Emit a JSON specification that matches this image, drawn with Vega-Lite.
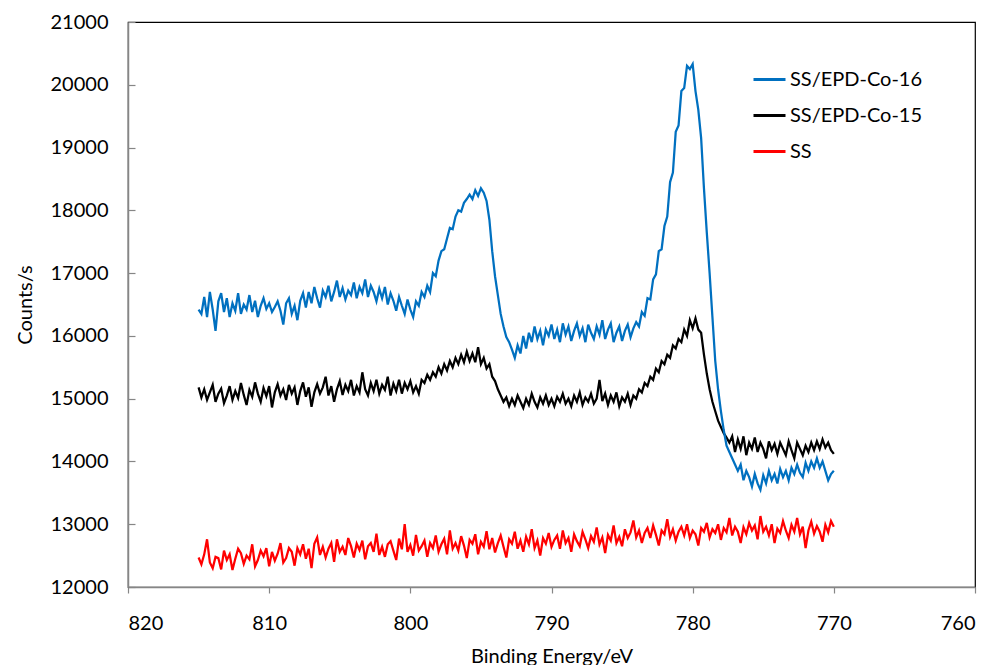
{
  "$schema": "https://vega.github.io/schema/vega-lite/v6.json",
  "width": 847,
  "height": 565,
  "autosize": "none",
  "padding": {"left": 128, "top": 22, "right": 20, "bottom": 78},
  "background": "white",
  "config": {
    "font": "Lato",
    "view": {"stroke": "#000000", "strokeWidth": 1.2},
    "axis": {
      "grid": false,
      "labelFont": "Lato",
      "labelFontSize": 20,
      "labelColor": "#000000",
      "titleFont": "Lato",
      "titleFontSize": 20,
      "titleFontWeight": "normal",
      "titleColor": "#000000",
      "domainColor": "#868686",
      "domainWidth": 1.5,
      "tickColor": "#868686",
      "tickWidth": 1.2
    },
    "legend": {"labelFont": "Lato", "labelFontSize": 20, "labelColor": "#000000"}
  },
  "data": {
    "values": [
      {"E":815.0,"b":16420,"k":15180,"r":12470},
      {"E":814.8,"b":16350,"k":15020,"r":12360},
      {"E":814.6,"b":16620,"k":15150,"r":12520},
      {"E":814.4,"b":16300,"k":14980,"r":12760},
      {"E":814.2,"b":16700,"k":15100,"r":12390},
      {"E":814.0,"b":16420,"k":15220,"r":12300},
      {"E":813.8,"b":16080,"k":14950,"r":12480},
      {"E":813.6,"b":16550,"k":15080,"r":12460},
      {"E":813.4,"b":16680,"k":15160,"r":12280},
      {"E":813.2,"b":16380,"k":14930,"r":12580},
      {"E":813.0,"b":16600,"k":15050,"r":12430},
      {"E":812.8,"b":16300,"k":15200,"r":12520},
      {"E":812.6,"b":16520,"k":14980,"r":12270},
      {"E":812.4,"b":16400,"k":15120,"r":12450},
      {"E":812.2,"b":16680,"k":15010,"r":12610},
      {"E":812.0,"b":16350,"k":15250,"r":12540},
      {"E":811.8,"b":16500,"k":15060,"r":12370},
      {"E":811.6,"b":16420,"k":14900,"r":12500},
      {"E":811.4,"b":16650,"k":15140,"r":12440},
      {"E":811.2,"b":16380,"k":15030,"r":12680},
      {"E":811.0,"b":16560,"k":15260,"r":12330},
      {"E":810.8,"b":16300,"k":15080,"r":12430},
      {"E":810.6,"b":16480,"k":14950,"r":12580},
      {"E":810.4,"b":16600,"k":15170,"r":12490},
      {"E":810.2,"b":16430,"k":15040,"r":12620},
      {"E":810.0,"b":16520,"k":15200,"r":12330},
      {"E":809.8,"b":16380,"k":14860,"r":12560},
      {"E":809.6,"b":16460,"k":15100,"r":12420},
      {"E":809.4,"b":16550,"k":15230,"r":12530},
      {"E":809.2,"b":16400,"k":15050,"r":12700},
      {"E":809.0,"b":16180,"k":15150,"r":12390},
      {"E":808.8,"b":16520,"k":14980,"r":12460},
      {"E":808.6,"b":16600,"k":15220,"r":12620},
      {"E":808.4,"b":16350,"k":15080,"r":12560},
      {"E":808.2,"b":16480,"k":15180,"r":12340},
      {"E":808.0,"b":16250,"k":14900,"r":12620},
      {"E":807.8,"b":16560,"k":15120,"r":12520},
      {"E":807.6,"b":16680,"k":15260,"r":12680},
      {"E":807.4,"b":16450,"k":15030,"r":12450},
      {"E":807.2,"b":16700,"k":15180,"r":12610},
      {"E":807.0,"b":16520,"k":14870,"r":12300},
      {"E":806.8,"b":16780,"k":15100,"r":12690},
      {"E":806.6,"b":16600,"k":15230,"r":12790},
      {"E":806.4,"b":16450,"k":15080,"r":12510},
      {"E":806.2,"b":16720,"k":15180,"r":12640},
      {"E":806.0,"b":16620,"k":15350,"r":12470},
      {"E":805.8,"b":16800,"k":15050,"r":12610},
      {"E":805.6,"b":16550,"k":15200,"r":12700},
      {"E":805.4,"b":16700,"k":14950,"r":12400},
      {"E":805.2,"b":16880,"k":15150,"r":12760},
      {"E":805.0,"b":16620,"k":15280,"r":12560},
      {"E":804.8,"b":16760,"k":15060,"r":12640},
      {"E":804.6,"b":16580,"k":15220,"r":12510},
      {"E":804.4,"b":16720,"k":15120,"r":12780},
      {"E":804.2,"b":16650,"k":15300,"r":12650},
      {"E":804.0,"b":16850,"k":15050,"r":12470},
      {"E":803.8,"b":16600,"k":15200,"r":12690},
      {"E":803.6,"b":16780,"k":15100,"r":12590},
      {"E":803.4,"b":16680,"k":15420,"r":12740},
      {"E":803.2,"b":16900,"k":15150,"r":12440},
      {"E":803.0,"b":16620,"k":15050,"r":12650},
      {"E":802.8,"b":16800,"k":15250,"r":12700},
      {"E":802.6,"b":16700,"k":15120,"r":12560},
      {"E":802.4,"b":16550,"k":15300,"r":12850},
      {"E":802.2,"b":16750,"k":15080,"r":12510},
      {"E":802.0,"b":16600,"k":15220,"r":12640},
      {"E":801.8,"b":16780,"k":15140,"r":12480},
      {"E":801.6,"b":16500,"k":15350,"r":12680},
      {"E":801.4,"b":16680,"k":15050,"r":12730},
      {"E":801.2,"b":16560,"k":15240,"r":12580},
      {"E":801.0,"b":16400,"k":15120,"r":12430},
      {"E":800.8,"b":16620,"k":15300,"r":12770},
      {"E":800.6,"b":16480,"k":15080,"r":12600},
      {"E":800.4,"b":16350,"k":15250,"r":13000},
      {"E":800.2,"b":16580,"k":15150,"r":12560},
      {"E":800.0,"b":16420,"k":15280,"r":12670},
      {"E":799.8,"b":16300,"k":15100,"r":12500},
      {"E":799.6,"b":16550,"k":15200,"r":12830},
      {"E":799.4,"b":16480,"k":15080,"r":12580},
      {"E":799.2,"b":16700,"k":15300,"r":12650},
      {"E":799.0,"b":16620,"k":15250,"r":12740},
      {"E":798.8,"b":16800,"k":15380,"r":12480},
      {"E":798.6,"b":16700,"k":15300,"r":12700},
      {"E":798.4,"b":17000,"k":15420,"r":12620},
      {"E":798.2,"b":16950,"k":15350,"r":12820},
      {"E":798.0,"b":17200,"k":15500,"r":12560},
      {"E":797.8,"b":17350,"k":15400,"r":12680},
      {"E":797.6,"b":17380,"k":15550,"r":12770},
      {"E":797.4,"b":17550,"k":15450,"r":12520},
      {"E":797.2,"b":17720,"k":15600,"r":12900},
      {"E":797.0,"b":17700,"k":15500,"r":12610},
      {"E":796.8,"b":17900,"k":15650,"r":12700},
      {"E":796.6,"b":18000,"k":15550,"r":12580},
      {"E":796.4,"b":17980,"k":15700,"r":12810},
      {"E":796.2,"b":18120,"k":15580,"r":12660},
      {"E":796.0,"b":18180,"k":15750,"r":12460},
      {"E":795.8,"b":18250,"k":15600,"r":12750},
      {"E":795.6,"b":18180,"k":15720,"r":12690},
      {"E":795.4,"b":18320,"k":15580,"r":12840},
      {"E":795.2,"b":18230,"k":15820,"r":12520},
      {"E":795.0,"b":18350,"k":15550,"r":12720},
      {"E":794.8,"b":18280,"k":15650,"r":12640},
      {"E":794.6,"b":18150,"k":15480,"r":12890},
      {"E":794.4,"b":17850,"k":15550,"r":12600},
      {"E":794.2,"b":17350,"k":15350,"r":12780},
      {"E":794.0,"b":16950,"k":15280,"r":12550},
      {"E":793.8,"b":16650,"k":15150,"r":12700},
      {"E":793.6,"b":16350,"k":15050,"r":12820},
      {"E":793.4,"b":16150,"k":14950,"r":12640},
      {"E":793.2,"b":15980,"k":15020,"r":12470},
      {"E":793.0,"b":15900,"k":14880,"r":12760},
      {"E":792.8,"b":15780,"k":15000,"r":12690},
      {"E":792.6,"b":15650,"k":14900,"r":12880},
      {"E":792.4,"b":15850,"k":15050,"r":12610},
      {"E":792.2,"b":15720,"k":14950,"r":12740},
      {"E":792.0,"b":16000,"k":14850,"r":12560},
      {"E":791.8,"b":15800,"k":15000,"r":12800},
      {"E":791.6,"b":16050,"k":14900,"r":12680},
      {"E":791.4,"b":15900,"k":15080,"r":12920},
      {"E":791.2,"b":16150,"k":14950,"r":12620},
      {"E":791.0,"b":15950,"k":14860,"r":12740},
      {"E":790.8,"b":16080,"k":15020,"r":12500},
      {"E":790.6,"b":15850,"k":14920,"r":12780},
      {"E":790.4,"b":16100,"k":15050,"r":12690},
      {"E":790.2,"b":16000,"k":14900,"r":12860},
      {"E":790.0,"b":16180,"k":15000,"r":12640},
      {"E":789.8,"b":15950,"k":14880,"r":12750},
      {"E":789.6,"b":16100,"k":15030,"r":12820},
      {"E":789.4,"b":15900,"k":14950,"r":12610},
      {"E":789.2,"b":16200,"k":15080,"r":12900},
      {"E":789.0,"b":16020,"k":14920,"r":12700},
      {"E":788.8,"b":16150,"k":15000,"r":12780},
      {"E":788.6,"b":15920,"k":14880,"r":12560},
      {"E":788.4,"b":16080,"k":15050,"r":12840},
      {"E":788.2,"b":16200,"k":14950,"r":12730},
      {"E":788.0,"b":16000,"k":15100,"r":12650},
      {"E":787.8,"b":16120,"k":14900,"r":12880},
      {"E":787.6,"b":15900,"k":15020,"r":12760},
      {"E":787.4,"b":16180,"k":14950,"r":12620},
      {"E":787.2,"b":16050,"k":15080,"r":12810},
      {"E":787.0,"b":15950,"k":14920,"r":12720},
      {"E":786.8,"b":16150,"k":15000,"r":12950},
      {"E":786.6,"b":16020,"k":15300,"r":12680},
      {"E":786.4,"b":16250,"k":14960,"r":12790},
      {"E":786.2,"b":15950,"k":15080,"r":12540},
      {"E":786.0,"b":16100,"k":14900,"r":12830},
      {"E":785.8,"b":16200,"k":15050,"r":12740},
      {"E":785.6,"b":15900,"k":14950,"r":12980},
      {"E":785.4,"b":16050,"k":15100,"r":12700},
      {"E":785.2,"b":16150,"k":14880,"r":12800},
      {"E":785.0,"b":15920,"k":15020,"r":12650},
      {"E":784.8,"b":16080,"k":14950,"r":12920},
      {"E":784.6,"b":16180,"k":15080,"r":12780},
      {"E":784.4,"b":15980,"k":14900,"r":12870},
      {"E":784.2,"b":16120,"k":15050,"r":13060},
      {"E":784.0,"b":16220,"k":15000,"r":12790},
      {"E":783.8,"b":16150,"k":15150,"r":12900},
      {"E":783.6,"b":16380,"k":15100,"r":12700},
      {"E":783.4,"b":16320,"k":15250,"r":12860},
      {"E":783.2,"b":16600,"k":15200,"r":12940},
      {"E":783.0,"b":16580,"k":15350,"r":12780},
      {"E":782.8,"b":16900,"k":15300,"r":12980},
      {"E":782.6,"b":16980,"k":15480,"r":12830},
      {"E":782.4,"b":17350,"k":15420,"r":12660},
      {"E":782.2,"b":17380,"k":15600,"r":12900},
      {"E":782.0,"b":17750,"k":15550,"r":12840},
      {"E":781.8,"b":17900,"k":15700,"r":13080},
      {"E":781.6,"b":18450,"k":15650,"r":12800},
      {"E":781.4,"b":18600,"k":15850,"r":12920},
      {"E":781.2,"b":19250,"k":15800,"r":12740},
      {"E":781.0,"b":19350,"k":15950,"r":12880},
      {"E":780.8,"b":19900,"k":15900,"r":12960},
      {"E":780.6,"b":19950,"k":16100,"r":12820},
      {"E":780.4,"b":20300,"k":16000,"r":13000},
      {"E":780.2,"b":20250,"k":16250,"r":12780},
      {"E":780.0,"b":20330,"k":16120,"r":12900},
      {"E":779.8,"b":19900,"k":16280,"r":12840},
      {"E":779.6,"b":19600,"k":16100,"r":12660},
      {"E":779.4,"b":19150,"k":16050,"r":12940},
      {"E":779.2,"b":18350,"k":15700,"r":12880},
      {"E":779.0,"b":17650,"k":15400,"r":13020},
      {"E":778.8,"b":17000,"k":15150,"r":12790},
      {"E":778.6,"b":16300,"k":14950,"r":12920},
      {"E":778.4,"b":15600,"k":14800,"r":12860},
      {"E":778.2,"b":15150,"k":14650,"r":13000},
      {"E":778.0,"b":14800,"k":14550,"r":12750},
      {"E":777.8,"b":14500,"k":14450,"r":12940},
      {"E":777.6,"b":14250,"k":14380,"r":12870},
      {"E":777.4,"b":14150,"k":14300,"r":13100},
      {"E":777.2,"b":14050,"k":14400,"r":12820},
      {"E":777.0,"b":13950,"k":14150,"r":12960},
      {"E":776.8,"b":13850,"k":14350,"r":12880},
      {"E":776.6,"b":13950,"k":14200,"r":12700},
      {"E":776.4,"b":13700,"k":14400,"r":12950},
      {"E":776.2,"b":13850,"k":14100,"r":12840},
      {"E":776.0,"b":13750,"k":14300,"r":13020},
      {"E":775.8,"b":13600,"k":14200,"r":12900},
      {"E":775.6,"b":13800,"k":14380,"r":12980},
      {"E":775.4,"b":13650,"k":14150,"r":12760},
      {"E":775.2,"b":13550,"k":14300,"r":13130},
      {"E":775.0,"b":13780,"k":14200,"r":12880},
      {"E":774.8,"b":13650,"k":14050,"r":12960},
      {"E":774.6,"b":13850,"k":14320,"r":12820},
      {"E":774.4,"b":13700,"k":14180,"r":13000},
      {"E":774.2,"b":13800,"k":14280,"r":12700},
      {"E":774.0,"b":13650,"k":14120,"r":12930},
      {"E":773.8,"b":13880,"k":14300,"r":12860},
      {"E":773.6,"b":13750,"k":14200,"r":13050},
      {"E":773.4,"b":13850,"k":14100,"r":12900},
      {"E":773.2,"b":13700,"k":14320,"r":12780},
      {"E":773.0,"b":13900,"k":14180,"r":12990},
      {"E":772.8,"b":13800,"k":14050,"r":12880},
      {"E":772.6,"b":13950,"k":14300,"r":13100},
      {"E":772.4,"b":13820,"k":14200,"r":12840},
      {"E":772.2,"b":13750,"k":14100,"r":12960},
      {"E":772.0,"b":13980,"k":14250,"r":12620},
      {"E":771.8,"b":13850,"k":14150,"r":12900},
      {"E":771.6,"b":14000,"k":14300,"r":13040},
      {"E":771.4,"b":13900,"k":14180,"r":12850},
      {"E":771.2,"b":14050,"k":14320,"r":12970},
      {"E":771.0,"b":13900,"k":14200,"r":12880},
      {"E":770.8,"b":14000,"k":14350,"r":12720},
      {"E":770.6,"b":13850,"k":14220,"r":12990},
      {"E":770.4,"b":13700,"k":14300,"r":12870},
      {"E":770.2,"b":13800,"k":14180,"r":13050},
      {"E":770.0,"b":13850,"k":14120,"r":12960}
    ]
  },
  "transform": [
    {"fold": ["r", "k", "b"], "as": ["series", "counts"]}
  ],
  "mark": {"type": "line", "strokeWidth": 2.25, "clip": true},
  "encoding": {
    "x": {
      "field": "E",
      "type": "quantitative",
      "scale": {"domain": [820, 760], "nice": false, "zero": false},
      "axis": {
        "title": "Binding Energy/eV",
        "values": [820, 810, 800, 790, 780, 770, 760],
        "format": "d",
        "tickSize": 6,
        "labelPadding": 20,
        "titlePadding": 13
      }
    },
    "y": {
      "field": "counts",
      "type": "quantitative",
      "scale": {"domain": [12000, 21000], "nice": false, "zero": false},
      "axis": {
        "title": "Counts/s",
        "values": [12000, 13000, 14000, 15000, 16000, 17000, 18000, 19000, 20000, 21000],
        "format": "d",
        "tickSize": -7,
        "labelPadding": 27,
        "titlePadding": 15
      }
    },
    "color": {
      "field": "series",
      "type": "nominal",
      "scale": {"domain": ["b", "k", "r"], "range": ["#0070C0", "#000000", "#FF0000"]},
      "legend": {
        "title": null,
        "orient": "none",
        "legendX": 624,
        "legendY": 40,
        "symbolType": "stroke",
        "symbolSize": 1024,
        "symbolStrokeWidth": 3,
        "rowPadding": 8,
        "labelOffset": 3,
        "labelExpr": "datum.label == 'b' ? 'SS/EPD-Co-16' : datum.label == 'k' ? 'SS/EPD-Co-15' : 'SS'"
      }
    },
    "order": {"field": "series"}
  }
}
